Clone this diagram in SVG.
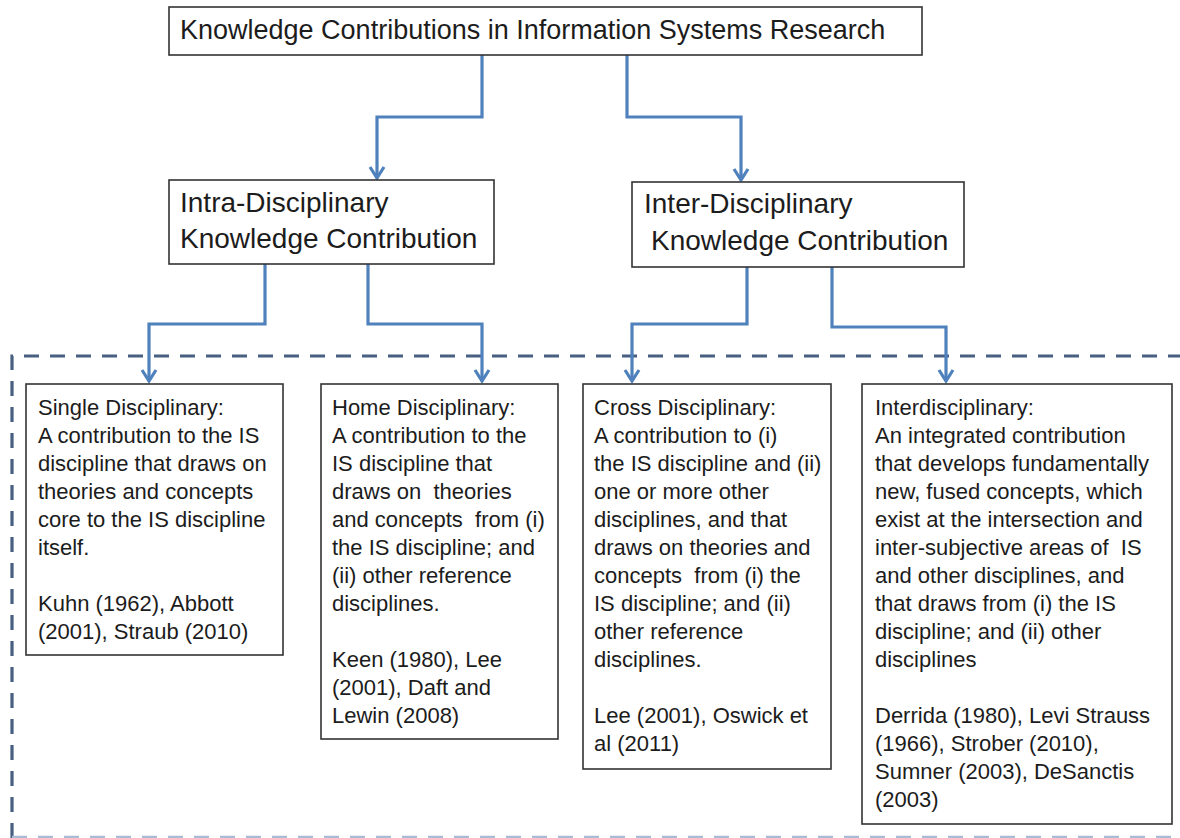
<svg xmlns="http://www.w3.org/2000/svg" width="1180" height="838" viewBox="0 0 1180 838">
<style>
.box{fill:#ffffff;stroke:#333333;stroke-width:1.6}
.t{font-family:"Liberation Sans",Arial,sans-serif;fill:#1c1c1c;white-space:pre}
.h1{font-size:27px}
.h2{font-size:28px}
.b{font-size:22px}
.conn{fill:none;stroke:#4f81bd;stroke-width:3.2;marker-end:url(#arr)}
.dash{fill:none;stroke:#475f80;stroke-width:3.2;stroke-dasharray:15 11}
</style>
<defs>
<marker id="arr" markerUnits="userSpaceOnUse" orient="auto" refX="0" refY="0" markerWidth="30" markerHeight="30" viewBox="-15 -15 30 30" overflow="visible">
<path d="M -11 -7 L 0 0 L -11 7" fill="none" stroke="#4f81bd" stroke-width="3.2"/>
</marker>
</defs>
<rect width="1180" height="838" fill="#ffffff"/>
<g id="frame">
<path class="dash" d="M 12 838 V 356 H 1180"/>
<path d="M 12 837 H 1180" fill="none" stroke="#a9bcd3" stroke-width="2.5" stroke-dasharray="15 11"/>
</g>
<g id="connectors">
<path class="conn" d="M 482 55 V 117 H 377 V 178"/>
<path class="conn" d="M 627 55 V 117 H 741 V 180"/>
<path class="conn" d="M 265 264 V 324 H 149 V 381"/>
<path class="conn" d="M 368 264 V 324 H 482 V 381"/>
<path class="conn" d="M 747 267 V 324 H 632 V 381"/>
<path class="conn" d="M 832 267 V 327 H 946 V 381"/>
</g>
<g id="root">
<rect class="box" x="169" y="7" width="753" height="48"/>
<text class="t h1" x="180" y="39">Knowledge Contributions in Information Systems Research</text>
</g>
<g id="intra">
<rect class="box" x="169" y="180" width="325" height="84"/>
<text class="t h2" x="180" y="212">Intra-Disciplinary</text>
<text class="t h2" x="180" y="248">Knowledge Contribution</text>
</g>
<g id="inter">
<rect class="box" x="632" y="182" width="332" height="85"/>
<text class="t h2" x="644" y="213">Inter-Disciplinary</text>
<text class="t h2" x="651" y="250">Knowledge Contribution</text>
</g>
<g id="single">
<rect class="box" x="26" y="384" width="257" height="271"/>
<text class="t b" x="38" y="415">Single Disciplinary:</text>
<text class="t b" x="38" y="443">A contribution to the IS</text>
<text class="t b" x="38" y="471">discipline that draws on</text>
<text class="t b" x="38" y="499">theories and concepts</text>
<text class="t b" x="38" y="527">core to the IS discipline</text>
<text class="t b" x="38" y="555">itself.</text>
<text class="t b" x="38" y="611">Kuhn (1962), Abbott</text>
<text class="t b" x="38" y="639">(2001), Straub (2010)</text>
</g>
<g id="home">
<rect class="box" x="321" y="384" width="237" height="355"/>
<text class="t b" x="332" y="415">Home Disciplinary:</text>
<text class="t b" x="332" y="443">A contribution to the</text>
<text class="t b" x="332" y="471">IS discipline that</text>
<text class="t b" x="332" y="499">draws on  theories</text>
<text class="t b" x="332" y="527">and concepts  from (i)</text>
<text class="t b" x="332" y="555">the IS discipline; and</text>
<text class="t b" x="332" y="583">(ii) other reference</text>
<text class="t b" x="332" y="611">disciplines.</text>
<text class="t b" x="332" y="667">Keen (1980), Lee</text>
<text class="t b" x="332" y="695">(2001), Daft and</text>
<text class="t b" x="332" y="723">Lewin (2008)</text>
</g>
<g id="cross">
<rect class="box" x="583" y="384" width="248" height="385"/>
<text class="t b" x="594" y="415">Cross Disciplinary:</text>
<text class="t b" x="594" y="443">A contribution to (i)</text>
<text class="t b" x="594" y="471">the IS discipline and (ii)</text>
<text class="t b" x="594" y="499">one or more other</text>
<text class="t b" x="594" y="527">disciplines, and that</text>
<text class="t b" x="594" y="555">draws on theories and</text>
<text class="t b" x="594" y="583">concepts  from (i) the</text>
<text class="t b" x="594" y="611">IS discipline; and (ii)</text>
<text class="t b" x="594" y="639">other reference</text>
<text class="t b" x="594" y="667">disciplines.</text>
<text class="t b" x="594" y="723">Lee (2001), Oswick et</text>
<text class="t b" x="594" y="751">al (2011)</text>
</g>
<g id="interdisciplinary">
<rect class="box" x="862" y="384" width="310" height="440"/>
<text class="t b" x="875" y="415">Interdisciplinary:</text>
<text class="t b" x="875" y="443">An integrated contribution</text>
<text class="t b" x="875" y="471">that develops fundamentally</text>
<text class="t b" x="875" y="499">new, fused concepts, which</text>
<text class="t b" x="875" y="527">exist at the intersection and</text>
<text class="t b" x="875" y="555">inter-subjective areas of  IS</text>
<text class="t b" x="875" y="583">and other disciplines, and</text>
<text class="t b" x="875" y="611">that draws from (i) the IS</text>
<text class="t b" x="875" y="639">discipline; and (ii) other</text>
<text class="t b" x="875" y="667">disciplines</text>
<text class="t b" x="875" y="723">Derrida (1980), Levi Strauss</text>
<text class="t b" x="875" y="751">(1966), Strober (2010),</text>
<text class="t b" x="875" y="779">Sumner (2003), DeSanctis</text>
<text class="t b" x="875" y="807">(2003)</text>
</g>
</svg>
